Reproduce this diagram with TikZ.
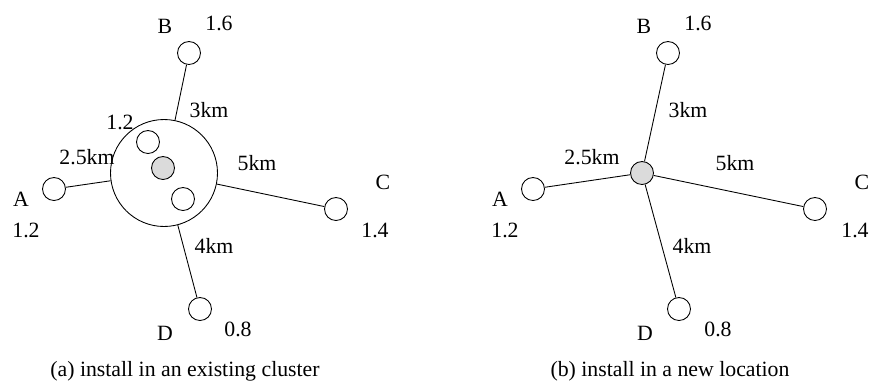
\documentclass[tikz,border=0pt]{standalone}
\usepackage{fontspec}
\setmainfont{Liberation Serif}

\tikzset{
  site/.style={draw, circle, minimum size=0.46cm, inner sep=0pt},
  newsite/.style={site, fill=black!14},
  cluster/.style={draw, circle, minimum size=2.14cm, inner sep=0pt},
  lbl/.style={font=\fontsize{12.4}{14}\selectfont, inner sep=0pt},
}

\begin{document}
\begin{tikzpicture}[x=0.02cm, y=-0.02cm, line width=0.5pt]
\useasboundingbox (0,0) rectangle (870,383);
% (a) existing cluster
\node[cluster] (acl) at (164,173) {};
\node[site] (ac1) at (148,142) {};
\node[newsite] (anew) at (163,168) {};
\node[site] (ac2) at (183,199) {};
\node[site] (aA) at (54,189) {};
\node[site] (aB) at (189,53) {};
\node[site] (aC) at (336,209) {};
\node[site] (aD) at (200,309) {};
\draw (aA) -- (acl);
\draw (aB) -- (acl);
\draw (aC) -- (acl);
\draw (aD) -- (acl);
\node[lbl] (aBn) at (165,26) {B};
\node[lbl] (aBw) at (219,23) {1.6};
\node[lbl] (aAn) at (21,199) {A};
\node[lbl] (aAw) at (26,230) {1.2};
\node[lbl] (aCn) at (383,182) {C};
\node[lbl] (aCw) at (375,230) {1.4};
\node[lbl] (aDn) at (165,333) {D};
\node[lbl] (aDw) at (238,329) {0.8};
\node[lbl] (acw) at (120,122) {1.2};
\node[lbl] (aAd) at (87,157) {2.5km};
\node[lbl] (aBd) at (209,110) {3km};
\node[lbl] (aCd) at (257,163) {5km};
\node[lbl] (aDd) at (214,246) {4km};
\node[lbl] (acap) at (185,371) {(a) install in an existing cluster};
% (b) new location
\node[newsite] (bnew) at (642,173) {};
\node[site] (bA) at (533,189) {};
\node[site] (bB) at (668,53) {};
\node[site] (bC) at (815,209) {};
\node[site] (bD) at (679,309) {};
\draw (bA) -- (bnew);
\draw (bB) -- (bnew);
\draw (bC) -- (bnew);
\draw (bD) -- (bnew);
\node[lbl] (bBn) at (644,26) {B};
\node[lbl] (bBw) at (698,23) {1.6};
\node[lbl] (bAn) at (500,199) {A};
\node[lbl] (bAw) at (505,230) {1.2};
\node[lbl] (bCn) at (862,182) {C};
\node[lbl] (bCw) at (855,230) {1.4};
\node[lbl] (bDn) at (645,333) {D};
\node[lbl] (bDw) at (718,329) {0.8};
\node[lbl] (bAd) at (592,157) {2.5km};
\node[lbl] (bBd) at (688,110) {3km};
\node[lbl] (bCd) at (735,163) {5km};
\node[lbl] (bDd) at (692,246) {4km};
\node[lbl] (bcap) at (670,371) {(b) install in a new location};
\end{tikzpicture}
\end{document}
